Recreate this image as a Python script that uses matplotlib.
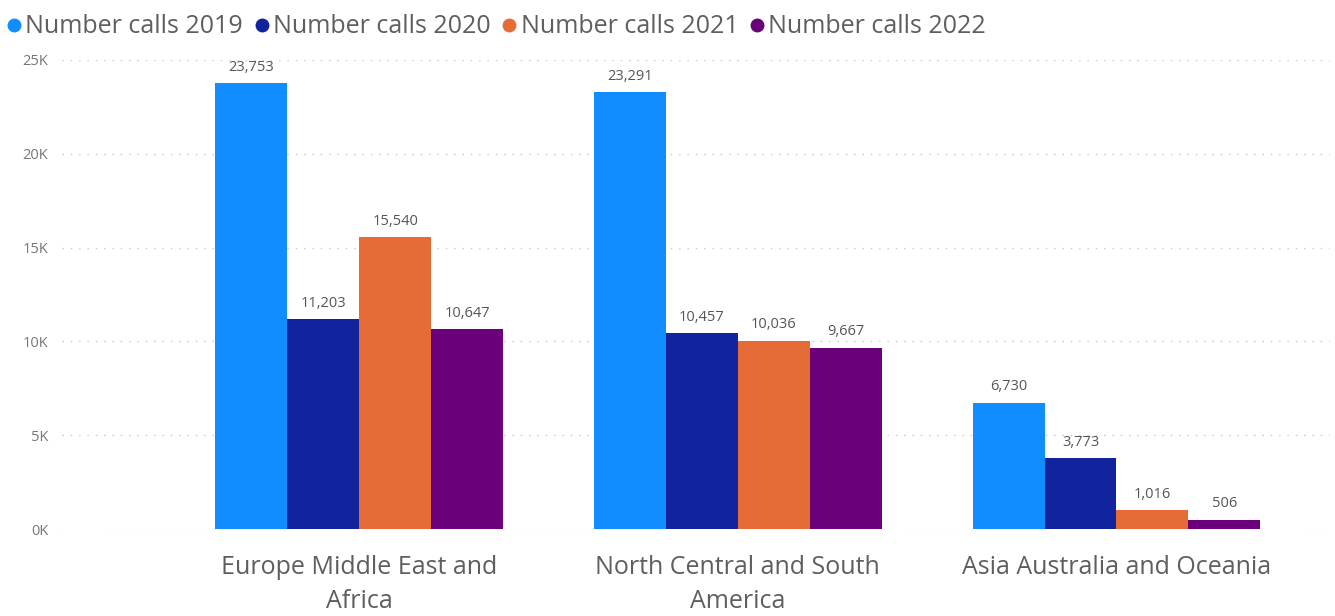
import numpy as np
import matplotlib.pyplot as plt
from matplotlib.lines import Line2D
from matplotlib.ticker import FuncFormatter

plt.rcParams['font.family'] = ['Open Sans', 'DejaVu Sans']

# data
regions = ['Europe Middle East and\nAfrica', 'North Central and South\nAmerica', 'Asia Australia and Oceania']
years = ['Number calls 2019', 'Number calls 2020', 'Number calls 2021', 'Number calls 2022']
calls_2019 = [23753, 23291, 6730]
calls_2020 = [11203, 10457, 3773]
calls_2021 = [15540, 10036, 1016]
calls_2022 = [10647, 9667, 506]
colors = ['#118DFF', '#12239E', '#E66C37', '#6B007B']

series = [calls_2019, calls_2020, calls_2021, calls_2022]

fig = plt.figure(figsize=(13.35, 6.16), dpi=100)
ax = fig.add_axes([0.0464, 0.1412, 0.9496, 0.7614])

x = np.arange(len(regions))
w = 0.19
for i, (vals, col) in enumerate(zip(series, colors)):
    bars = ax.bar(x + (i - 1.5) * w, vals, w, color=col, label=years[i], zorder=3)
    ax.bar_label(bars, labels=[f'{v:,}' for v in vals], padding=6,
                 fontsize=10.5, color='#555555')

ax.set_xlim(-0.785, 2.563)
ax.set_ylim(0, 25000)
ax.set_yticks(np.arange(0, 25001, 5000))
ax.yaxis.set_major_formatter(FuncFormatter(lambda v, p: f'{int(v / 1000)}K'))
ax.set_xticks(x)
ax.set_xticklabels(regions, fontsize=18, color='#605E5C', linespacing=1.45)
ax.tick_params(axis='x', length=0, pad=19)
ax.tick_params(axis='y', length=0, pad=10, labelsize=10.5, labelcolor='#777777')
ax.grid(axis='y', linestyle=(0, (1, 5)), color='#C8C8C8', linewidth=1, zorder=0)
for s in ax.spines.values():
    s.set_visible(False)

handles = [Line2D([], [], marker='o', linestyle='', color=c, markersize=9) for c in colors]
fig.legend(handles, years, loc='upper left', bbox_to_anchor=(-0.011, 1.005), ncol=4,
           frameon=False, fontsize=18, labelcolor='#605E5C', handletextpad=0.0,
           columnspacing=0.3, handlelength=0.9, borderaxespad=0.3)

fig.savefig('out.png', dpi=100)
